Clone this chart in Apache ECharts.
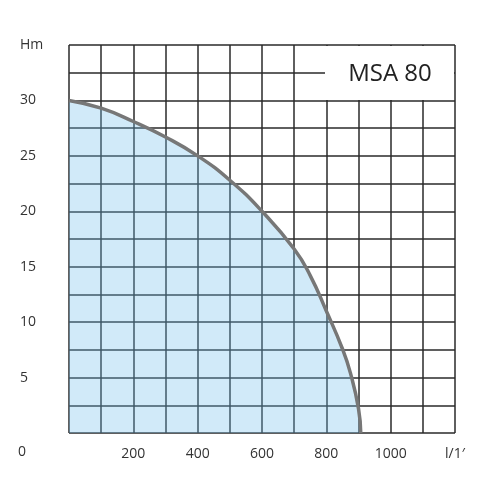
<!DOCTYPE html>
<html><head><meta charset="utf-8">
<script src="https://cdn.jsdelivr.net/npm/echarts@6/dist/echarts.min.js"></script>
<style>html,body{margin:0;background:#fff}#c{width:500px;height:500px}</style>
</head><body><div id="c"></div>
<script>
const flow = [0, 100, 200, 300, 400, 500, 600, 700, 750, 800, 850, 875, 900, 907];
const head = [30, 29.3, 28.1, 26.7, 25, 22.8, 20, 16.6, 14.2, 11, 7.6, 5.4, 2.2, 0];
const title = 'MSA 80';
const chart = echarts.init(document.getElementById('c'));
const grid = {left: 69, right: 45, top: 45, bottom: 67};
chart.setOption({
  animation: false,
  grid: grid,
  xAxis: {type: 'value', min: 0, max: 1200, interval: 100,
    axisLine: {show: false}, axisTick: {show: false},
    splitLine: {show: true, lineStyle: {color: '#2a2a2a', width: 1.5}},
    axisLabel: {margin: 14, color: '#333', fontSize: 14, fontFamily: 'Open Sans',
      formatter: v => v === 1200 ? "l/1\u2032" : (v > 0 && v % 200 === 0 ? String(v) : '')}},
  yAxis: {type: 'value', min: 0, max: 35, interval: 2.5,
    axisLine: {show: false}, axisTick: {show: false},
    splitLine: {show: true, lineStyle: {color: '#2a2a2a', width: 1.5}},
    axisLabel: {margin: 49, align: 'left', color: '#333', fontSize: 14, fontFamily: 'Open Sans',
      formatter: v => v === 35 ? 'Hm' : (v > 0 && v % 5 === 0 ? String(v) : '')}},
  series: [{type: 'line', data: flow.map((f, i) => [f, head[i]]), smooth: 0.5,
    showSymbol: false, z: 3,
    lineStyle: {color: '#777', width: 3.5},
    areaStyle: {color: 'rgba(110,190,235,0.45)'}}],
  graphic: [
    {type: 'rect', shape: {x: 325, y: 46, width: 129, height: 54}, style: {fill: '#fff'}, z: 100},
    {type: 'text', x: 390, y: 74, z: 101, style: {text: title, fill: '#222', font: '24px "Open Sans"', align: 'center', verticalAlign: 'middle'}},
    {type: 'text', x: 18, y: 452, z: 101, style: {text: '0', fill: '#333', font: '14px "Open Sans"', verticalAlign: 'middle'}}
  ]
});
</script></body></html>
